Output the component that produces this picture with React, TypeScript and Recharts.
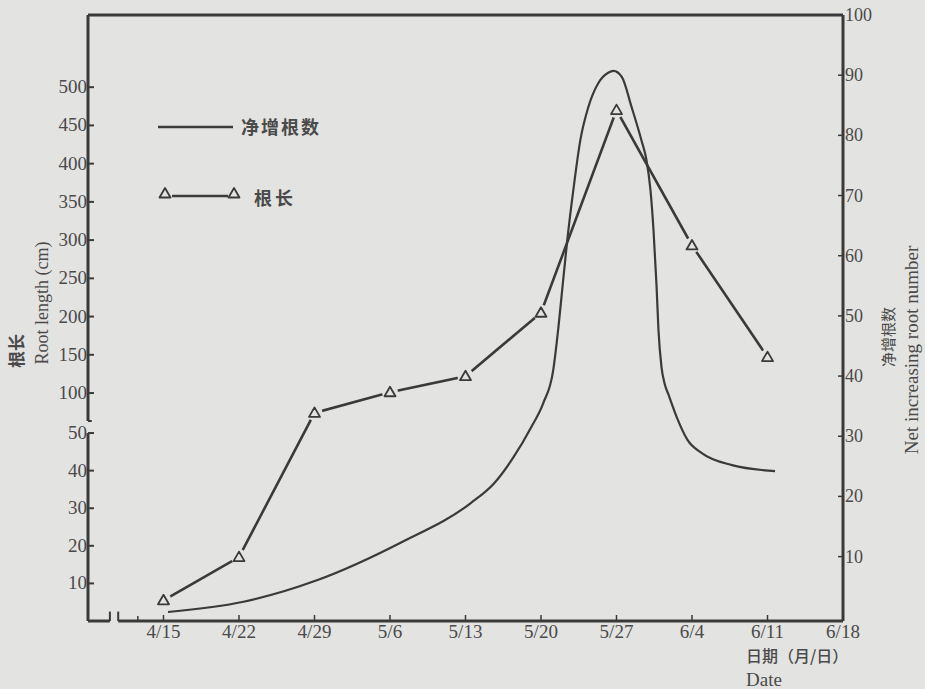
import React from 'react';
import { LineChart, Line, XAxis, YAxis, ReferenceLine } from 'recharts';

// ---- data ----
const dateLabels = ['4/15', '4/22', '4/29', '5/6', '5/13', '5/20', '5/27', '6/4', '6/11', '6/18'];
const datePositions = [1, 2, 3, 4, 5, 6, 7, 8, 9, 10];

// Root length (cm), one value per sampling date 4/15 .. 6/11
const rootLengthDates = [1, 2, 3, 4, 5, 6, 7, 8, 9];
const rootLength = [5.5, 17, 74, 101, 122, 205, 470, 293, 147];

// Net increasing root number (smooth curve): position on the date axis and value
const netPos = [1.06, 2.06, 3.04, 4.14, 5.07, 5.38, 5.64, 5.87, 6.03, 6.162, 6.228, 6.282, 6.348, 6.428, 6.521, 6.627, 6.76, 6.89, 6.96, 7.07, 7.2, 7.33, 7.397, 7.45, 7.49, 7.53, 7.556, 7.596, 7.636, 7.689, 7.8, 7.94, 8.13, 8.53, 9.1];
const netRoots = [0.8, 2.5, 6.1, 12.3, 18.9, 22.2, 26.6, 31.5, 35.5, 41.0, 47.8, 54.5, 62.6, 70.9, 79.2, 84.7, 88.7, 90.4, 90.7, 89.7, 84.7, 79.2, 75.9, 70.9, 64.3, 55.1, 47.6, 41.5, 38.8, 36.9, 33.1, 29.4, 27.2, 25.2, 24.2];

const leftLowerTicks = [10, 20, 30, 40, 50];
const leftUpperTicks = [100, 150, 200, 250, 300, 350, 400, 450, 500];
const rightTicks = [10, 20, 30, 40, 50, 60, 70, 80, 90, 100];

// ---- broken left axis mapping ----
const BREAK_LOW = 50;
const UPPER_BASE = 100;
const UPPER_BASE_DISPLAY = 60.64;
const UPPER_RATIO = 0.2034;
const LEFT_TOP = 161.2;
const BREAK_UPPER_START = 53.2;
const toDisplay = (v: number) => (v <= BREAK_LOW ? v : UPPER_BASE_DISPLAY + (v - UPPER_BASE) * UPPER_RATIO);

const leftTickValues = [...leftLowerTicks, ...leftUpperTicks];
const leftTickDisplay = leftTickValues.map(toDisplay);

const rootData = rootLengthDates.map((x, i) => ({ x, y: toDisplay(rootLength[i]), raw: rootLength[i] }));
const netData = netPos.map((x, i) => ({ x, y: netRoots[i] }));

// ---- style ----
const BG = '#e3e3e1';
const INK = '#3a3a3a';
const TXT = '#4a4a4a';
const SERIF = '"Liberation Serif", "DejaVu Serif", serif';
const CJK = '"Noto Sans CJK SC", sans-serif';

const XTick = (props: any) => {
  const { x, payload } = props;
  const idx = datePositions.indexOf(payload.value);
  return (
    <g>
      <line x1={x} x2={x} y1={615} y2={621} stroke={INK} strokeWidth={1.5} />
      <text x={x} y={638} textAnchor="middle" fontFamily={SERIF} fontSize={19} fill={TXT}>
        {idx >= 0 ? dateLabels[idx] : ''}
      </text>
    </g>
  );
};

const LeftTick = (props: any) => {
  const { y, payload } = props;
  const idx = leftTickDisplay.findIndex((d) => Math.abs(d - payload.value) < 1e-6);
  return (
    <g>
      <line x1={88} x2={94} y1={y} y2={y} stroke={INK} strokeWidth={2} />
      <text x={87} y={y + 6} textAnchor="end" fontFamily={SERIF} fontSize={19} fill={TXT}>
        {idx >= 0 ? leftTickValues[idx] : ''}
      </text>
    </g>
  );
};

const RightTick = (props: any) => {
  const { y, payload } = props;
  return (
    <g>
      <line x1={838} x2={843} y1={y} y2={y} stroke={INK} strokeWidth={1.5} />
      <text x={845} y={y + 6} textAnchor="start" fontFamily={SERIF} fontSize={18} fill={TXT}>
        {payload.value}
      </text>
    </g>
  );
};

const TriangleDot = (props: any) => {
  const { cx, cy, index } = props;
  if (cx == null || cy == null) return <g key={index} />;
  return (
    <g key={index}>
      <circle cx={cx} cy={cy} r={8} fill={BG} />
      <path
        d={`M${cx},${cy - 5.5} L${cx + 5.5},${cy + 4} L${cx - 5.5},${cy + 4} Z`}
        fill={BG}
        stroke={INK}
        strokeWidth={1.8}
        strokeLinejoin="round"
      />
    </g>
  );
};

const frame = { stroke: INK, strokeWidth: 3 };

export default function App() {
  return (
    <div style={{ position: 'absolute', left: 0, top: 0, width: 925, height: 689, background: BG, overflow: 'hidden' }}>
      <LineChart width={925} height={689} margin={{ top: 15, right: 81, bottom: 67, left: 87 }}>
        <XAxis
          type="number"
          dataKey="x"
          domain={[0, 10]}
          ticks={datePositions}
          interval={0}
          height={1}
          axisLine={false}
          tickLine={false}
          tick={(p: any) => <XTick {...p} />}
        />
        <YAxis
          yAxisId="left"
          type="number"
          domain={[0, LEFT_TOP]}
          ticks={leftTickDisplay}
          interval={0}
          width={1}
          axisLine={false}
          tickLine={false}
          tick={(p: any) => <LeftTick {...p} />}
        />
        <YAxis
          yAxisId="right"
          orientation="right"
          type="number"
          domain={[-0.7, 100]}
          ticks={rightTicks}
          interval={0}
          width={1}
          axisLine={false}
          tickLine={false}
          tick={(p: any) => <RightTick {...p} />}
        />

        {/* frame and broken axes */}
        <ReferenceLine yAxisId="left" segment={[{ x: 0, y: 0 }, { x: 0.29, y: 0 }]} {...frame} />
        <ReferenceLine yAxisId="left" segment={[{ x: 0.4, y: 0 }, { x: 10, y: 0 }]} {...frame} />
        <ReferenceLine yAxisId="left" segment={[{ x: 0.29, y: 0 }, { x: 0.29, y: 2.5 }]} stroke={INK} strokeWidth={2} />
        <ReferenceLine yAxisId="left" segment={[{ x: 0.4, y: 0 }, { x: 0.4, y: 2.5 }]} stroke={INK} strokeWidth={2} />
        <ReferenceLine yAxisId="left" segment={[{ x: 0.66, y: 0 }, { x: 0.66, y: 1.3 }]} stroke={INK} strokeWidth={1.5} />
        <ReferenceLine yAxisId="left" segment={[{ x: 0, y: 0 }, { x: 0, y: BREAK_LOW }]} {...frame} />
        <ReferenceLine yAxisId="left" segment={[{ x: 0, y: BREAK_UPPER_START }, { x: 0, y: LEFT_TOP }]} {...frame} />
        <ReferenceLine yAxisId="left" segment={[{ x: 0, y: BREAK_UPPER_START }, { x: 0.05, y: BREAK_UPPER_START }]} stroke={INK} strokeWidth={2} />
        <ReferenceLine yAxisId="left" segment={[{ x: 0, y: LEFT_TOP }, { x: 10, y: LEFT_TOP }]} {...frame} />
        <ReferenceLine yAxisId="left" segment={[{ x: 10, y: 0 }, { x: 10, y: LEFT_TOP }]} {...frame} />

        <Line
          yAxisId="right"
          data={netData}
          dataKey="y"
          type="monotone"
          stroke={INK}
          strokeWidth={2.2}
          dot={false}
          isAnimationActive={false}
        />
        <Line
          yAxisId="left"
          data={rootData}
          dataKey="y"
          type="linear"
          stroke={INK}
          strokeWidth={2.6}
          dot={(p: any) => <TriangleDot {...p} />}
          isAnimationActive={false}
        />
      </LineChart>

      <svg width={925} height={689} style={{ position: 'absolute', left: 0, top: 0, pointerEvents: 'none' }}>
        {/* legend */}
        <line x1={158} x2={233} y1={127} y2={127} stroke={INK} strokeWidth={2.4} />
        <text x={241} y={134} fontFamily={CJK} fontSize={18} fontWeight={700} fill={TXT} letterSpacing={2}>净增根数</text>
        <line x1={172} x2={228} y1={196} y2={196} stroke={INK} strokeWidth={2.6} />
        <path d="M165,188 L170.5,197.5 L159.5,197.5 Z" fill={BG} stroke={INK} strokeWidth={1.8} strokeLinejoin="round" />
        <path d="M234,188 L239.5,197.5 L228.5,197.5 Z" fill={BG} stroke={INK} strokeWidth={1.8} strokeLinejoin="round" />
        <text x={254} y={205} fontFamily={CJK} fontSize={18} fontWeight={700} fill={TXT} letterSpacing={3}>根长</text>

        {/* axis titles */}
        <text transform="translate(23,351) rotate(-90)" textAnchor="middle" fontFamily={CJK} fontSize={17} fontWeight={700} fill={TXT}>根长</text>
        <text transform="translate(48,303) rotate(-90)" textAnchor="middle" fontFamily={SERIF} fontSize={18} fill={TXT}>Root length (cm)</text>
        <text transform="translate(894,337) rotate(-90)" textAnchor="middle" fontFamily={CJK} fontSize={15} fill={TXT}>净增根数</text>
        <text transform="translate(918,350) rotate(-90)" textAnchor="middle" fontFamily={SERIF} fontSize={19} fill={TXT}>Net increasing root number</text>
        <text x={746} y={662} fontFamily={CJK} fontSize={16} fontWeight={500} fill={TXT}>日期（月/日）</text>
        <text x={746} y={686} fontFamily={SERIF} fontSize={19} fill={TXT}>Date</text>
      </svg>
    </div>
  );
}
